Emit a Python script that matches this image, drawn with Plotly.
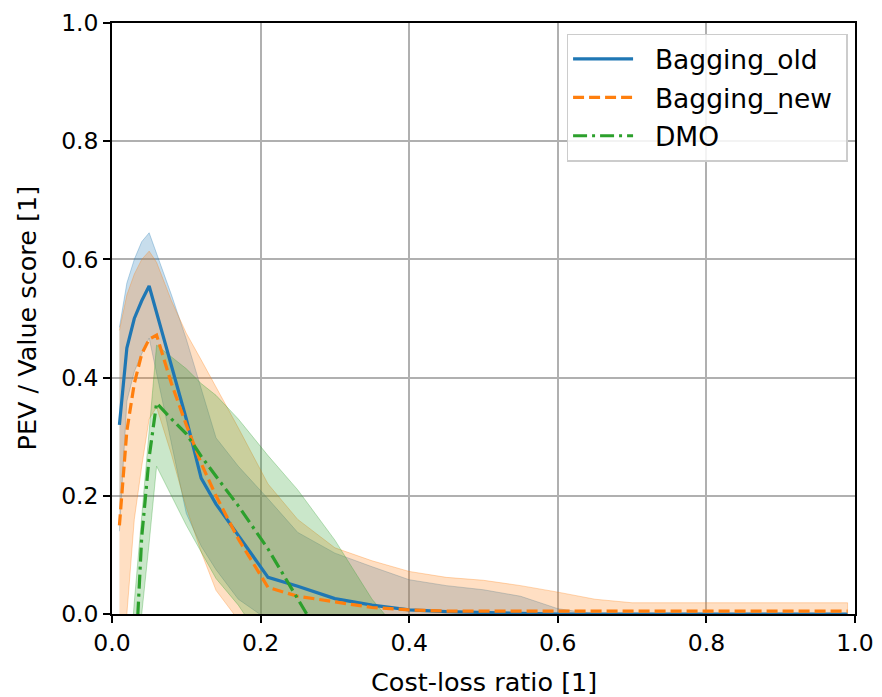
import plotly.graph_objects as go

# Cost-loss ratios
cost_loss = [0.01, 0.02, 0.03, 0.04, 0.05, 0.06, 0.08, 0.10, 0.12, 0.14, 0.17, 0.21,
             0.25, 0.30, 0.35, 0.40, 0.45, 0.50, 0.55, 0.60, 0.65, 0.70, 0.80, 0.90, 0.99]

# Bagging_old
old_mean  = [0.32, 0.45, 0.50, 0.53, 0.555, 0.51, 0.42, 0.33, 0.23, 0.186, 0.133, 0.062,
             0.047, 0.026, 0.015, 0.007, 0.004, 0.002, 0.001, 0.0, 0.0, 0.0, 0.0, 0.0, 0.0]
old_upper = [0.485, 0.56, 0.60, 0.63, 0.645, 0.61, 0.54, 0.465, 0.38, 0.298, 0.25, 0.195,
             0.138, 0.103, 0.08, 0.058, 0.048, 0.041, 0.03, 0.009, 0.0, 0.0, 0.0, 0.0, 0.0]
old_lower = [0.14, 0.36, 0.41, 0.44, 0.467, 0.41, 0.29, 0.17, 0.115, 0.075, 0.025, -0.01,
             -0.02, -0.02, -0.02, -0.02, -0.02, -0.02, -0.02, -0.02, -0.02, -0.02, -0.02, -0.02, -0.02]

# Bagging_new
new_mean  = [0.15, 0.31, 0.39, 0.44, 0.465, 0.472, 0.39, 0.32, 0.255, 0.20, 0.127, 0.045,
             0.03, 0.02, 0.011, 0.007, 0.005, 0.005, 0.005, 0.005, 0.005, 0.005, 0.005, 0.005, 0.005]
new_upper = [0.48, 0.54, 0.575, 0.60, 0.614, 0.595, 0.53, 0.475, 0.43, 0.385, 0.315, 0.22,
             0.16, 0.112, 0.09, 0.072, 0.062, 0.057, 0.048, 0.037, 0.025, 0.019, 0.019, 0.019, 0.019]
new_lower = [-0.05, 0.0, 0.16, 0.25, 0.33, 0.35, 0.27, 0.18, 0.105, 0.04, -0.01, -0.015,
             -0.015, -0.015, -0.015, -0.015, -0.015, -0.015, -0.015, -0.015, -0.015, -0.015, -0.015, -0.015, -0.015]

# DMO
dmo_mean  = [-0.55, -0.35, -0.12, 0.13, 0.265, 0.357, 0.33, 0.305, 0.267, 0.233, 0.183, 0.11,
             0.026, -0.08, -0.15, -0.2, -0.2, -0.2, -0.2, -0.2, -0.2, -0.2, -0.2, -0.2, -0.2]
dmo_upper = [-0.3, -0.15, 0.02, 0.17, 0.32, 0.455, 0.435, 0.415, 0.39, 0.37, 0.33, 0.268,
             0.21, 0.125, 0.025, -0.05, -0.08, -0.08, -0.08, -0.08, -0.08, -0.08, -0.08, -0.08, -0.08]
dmo_lower = [-0.8, -0.55, -0.25, 0.0, 0.12, 0.25, 0.2, 0.15, 0.105, 0.06, 0.015, -0.06,
             -0.12, -0.3, -0.3, -0.3, -0.3, -0.3, -0.3, -0.3, -0.3, -0.3, -0.3, -0.3, -0.3]

x_ticks = [0.0, 0.2, 0.4, 0.6, 0.8, 1.0]
y_ticks = [0.0, 0.2, 0.4, 0.6, 0.8, 1.0]

series = [
    ("Bagging_old", old_mean, old_upper, old_lower, (31, 119, 180), "solid"),
    ("Bagging_new", new_mean, new_upper, new_lower, (255, 127, 14), "11px,5px"),
    ("DMO", dmo_mean, dmo_upper, dmo_lower, (44, 160, 44), "14px,5px,3px,5px"),
]

FONT = "DejaVu Sans"
TICK_SIZE = 23.5
LABEL_SIZE = 25.5
LEGEND_SIZE = 26.5
NB = "\u00a0"
fig = go.Figure()

for name, mean, up, lo, c, dash in series:
    r, g, b = c
    fig.add_trace(go.Scatter(
        x=cost_loss + cost_loss[::-1],
        y=up + lo[::-1],
        fill="toself",
        fillcolor=f"rgba({r},{g},{b},0.25)",
        line=dict(color=f"rgba({r},{g},{b},0.3)", width=1),
        mode="lines",
        showlegend=False,
        hoverinfo="skip",
    ))

for i, (name, mean, up, lo, c, dash) in enumerate(series):
    r, g, b = c
    fig.add_trace(go.Scatter(
        x=cost_loss, y=mean, mode="lines", name=NB * 2 + name + NB,
        legendgroup=f"g{i}",
        line=dict(color=f"rgb({r},{g},{b})", width=3.2, dash=dash),
    ))

axis_common = dict(
    showline=True, linecolor="black", linewidth=1.5, mirror=True,
    ticks="outside", ticklen=7, tickwidth=1.5, tickcolor="black",
    showgrid=True, gridcolor="#b0b0b0", gridwidth=1.5,
    zeroline=False, automargin=False,
    tickfont=dict(family=FONT, size=TICK_SIZE, color="black"),
    tickformat=".1f",
)

fig.update_xaxes(range=[0, 1], tickvals=x_ticks, **axis_common)
fig.update_yaxes(range=[0, 1], tickvals=y_ticks, **axis_common)

fig.add_annotation(text="Cost-loss ratio [1]", xref="paper", yref="paper",
                   x=0.5, y=0.0, yshift=-68, xanchor="center", yanchor="middle",
                   showarrow=False, font=dict(family=FONT, size=LABEL_SIZE, color="black"))
fig.add_annotation(text="PEV / Value score [1]", xref="paper", yref="paper",
                   x=0.0, y=0.5, xshift=-86, xanchor="center", yanchor="middle",
                   textangle=-90, showarrow=False,
                   font=dict(family=FONT, size=LABEL_SIZE, color="black"))

fig.update_layout(
    width=874, height=689,
    margin=dict(l=104, r=27, t=15, b=83),
    paper_bgcolor="white", plot_bgcolor="white",
    font=dict(family=FONT, size=LABEL_SIZE, color="black"),
    legend=dict(
        x=0.99, y=0.982, xanchor="right", yanchor="top",
        bgcolor="rgba(255,255,255,0.85)", bordercolor="#cccccc", borderwidth=1.5,
        font=dict(family=FONT, size=LEGEND_SIZE, color="black"),
        itemwidth=60, tracegroupgap=1,
    ),
)

fig.write_html("out.html")
